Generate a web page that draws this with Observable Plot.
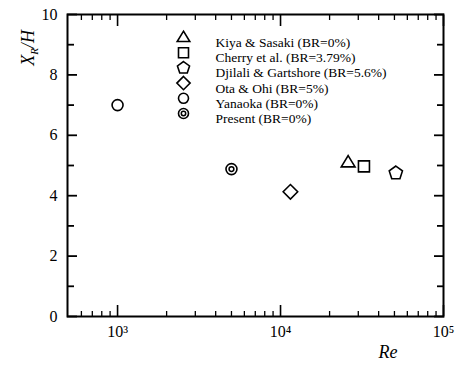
<!DOCTYPE html>
<html><head><meta charset="utf-8">
<script src="https://cdn.jsdelivr.net/npm/d3@7"></script>
<script src="https://cdn.jsdelivr.net/npm/@observablehq/plot@0.6"></script>
<style>body{margin:0;background:#fff;}</style>
</head><body><div id="c"></div>
<script>
// Data
const studies = ["Kiya & Sasaki (BR=0%)","Cherry et al. (BR=3.79%)","Djilali & Gartshore (BR=5.6%)","Ota & Ohi (BR=5%)","Yanaoka (BR=0%)","Present (BR=0%)"];
const symbolNames = ["triangle","square","pentagon","diamond","circle","double"];
const reValues = [26000, 32500, 51000, 11500, 1000, 5000];
const xrhValues = [5.1, 4.97, 4.75, 4.13, 7.0, 4.88];
const xMajorTicks = [1e3, 1e4, 1e5];
const xMinorTicks = [600,700,800,900,2000,3000,4000,5000,6000,7000,8000,9000,20000,30000,40000,50000,60000,70000,80000,90000];
const yMajorTicks = [0,2,4,6,8,10];
const yMinorTicks = [1,3,5,7,9];
const xTickLabels = ["10³","10⁴","10⁵"];

const mk = fn => ({draw(ctx, size){ const r = Math.sqrt(size/Math.PI); fn(ctx, r); }});
const poly = (n, k) => mk((ctx, r) => {
  const R = r*k;
  for (let i=0;i<n;i++){ const a=-Math.PI/2+i*2*Math.PI/n; const x=R*Math.cos(a), y=R*Math.sin(a);
    if(i===0) ctx.moveTo(x,y); else ctx.lineTo(x,y);} ctx.closePath(); });
const symbols = {
  triangle: mk((ctx,r)=>{const R=r*1.25; ctx.moveTo(0,-R*0.95); ctx.lineTo(R*0.95,R*0.6); ctx.lineTo(-R*0.95,R*0.6); ctx.closePath();}),
  square: mk((ctx,r)=>{ctx.rect(-r,-r,2*r,2*r);}),
  pentagon: poly(5, 1.2),
  diamond: mk((ctx,r)=>{const R=r*1.25; ctx.moveTo(0,-R); ctx.lineTo(R,0); ctx.lineTo(0,R); ctx.lineTo(-R,0); ctx.closePath();}),
  circle: "circle",
  double: "circle"
};

const data = studies.map((s,i)=>({study:s, sym:symbolNames[i], re:reValues[i], xr:xrhValues[i]}));

const W=457, H=367, mL=67, mR=14, mT=14, mB=51;
const pw = W-mL-mR, ph = H-mT-mB;
const font = "Liberation Serif, DejaVu Serif, serif";
const blank = () => "";

const marks = [];
marks.push(Plot.frame({stroke:"black", strokeWidth:2, fill:"none"}));

// data points
for (const d of data) {
  const s = symbols[d.sym];
  const r = d.sym==="circle"||d.sym==="double" ? 5.5 : (d.sym==="square"?5.5:5.8);
  marks.push(Plot.dot([d], {x:"re", y:"xr", symbol:()=>s, r, stroke:"black", strokeWidth:1.6, fill:"none"}));
  if (d.sym==="double") marks.push(Plot.dot([d], {x:"re", y:"xr", r:2.4, stroke:"black", strokeWidth:1.5, fill:"none"}));
}

// legend in frame
data.forEach((d,i)=>{
  const s = symbols[d.sym];
  const dy = 23 + i*15.2;
  const r = d.sym==="circle"||d.sym==="double" ? 5 : (d.sym==="square"?5:5.3);
  marks.push(Plot.dot([d], {frameAnchor:"top-left", dx:116, dy, symbol:()=>s, r, stroke:"black", strokeWidth:1.6, fill:"none"}));
  if (d.sym==="double") marks.push(Plot.dot([d], {frameAnchor:"top-left", dx:116, dy, r:2.2, stroke:"black", strokeWidth:1.5, fill:"none"}));
  marks.push(Plot.text([d], {frameAnchor:"top-left", dx:148, dy, text:"study", textAnchor:"start", fontSize:13.5, fontFamily:font, fill:"black"}));
});

// inward ticks on all four sides, via axis marks with negative tick size
marks.push(Plot.axisX({anchor:"bottom", ticks:xMinorTicks, tickSize:-5, strokeWidth:1.3, stroke:"black", tickFormat:blank}));
marks.push(Plot.axisX({anchor:"top", ticks:xMinorTicks, tickSize:-5, strokeWidth:1.3, stroke:"black", tickFormat:blank}));
marks.push(Plot.axisX({anchor:"top", ticks:xMajorTicks, tickSize:-11, strokeWidth:1.6, stroke:"black", tickFormat:blank}));
marks.push(Plot.axisY({anchor:"left", ticks:yMinorTicks, tickSize:-7, strokeWidth:1.8, stroke:"black", tickFormat:blank}));
marks.push(Plot.axisY({anchor:"right", ticks:yMinorTicks, tickSize:-7, strokeWidth:1.8, stroke:"black", tickFormat:blank}));
marks.push(Plot.axisY({anchor:"right", ticks:yMajorTicks, tickSize:-10, strokeWidth:1.8, stroke:"black", tickFormat:blank}));

const fmt = d => xTickLabels[xMajorTicks.indexOf(d)] ?? "";
const chart = Plot.plot({
  width: W, height: H,
  marginLeft: mL, marginRight: mR, marginTop: mT, marginBottom: mB,
  x: {type:"log", domain:[493, 1e5], label:null},
  y: {domain:[0,10], label:null},
  marks: [
    Plot.axisX({anchor:"bottom", ticks: xMajorTicks, tickSize:-11, strokeWidth:1.6, stroke:"black", tickPadding:20, fontSize:16, fontFamily:font, fill:"black", tickFormat: fmt}),
    Plot.axisY({anchor:"left", ticks: yMajorTicks, tickSize:-10, strokeWidth:1.8, stroke:"black", tickPadding:20, fontSize:16, fontFamily:font, fill:"black"}),
    ...marks
  ]
});
document.getElementById("c").appendChild(chart);

// axis titles
const svg = d3.select(chart);
svg.append("text").attr("transform", `translate(34,${mT+34}) rotate(-90)`)
  .attr("text-anchor","middle").attr("font-family",font).attr("font-style","italic").attr("font-size",18).attr("fill","black")
  .html('X<tspan font-size="11" dy="4">R</tspan><tspan dy="-4">/H</tspan>');
svg.append("text").attr("x", 388).attr("y", 358).attr("text-anchor","middle")
  .attr("font-family",font).attr("font-style","italic").attr("font-size",18).attr("fill","black").text("Re");
</script></body></html>
